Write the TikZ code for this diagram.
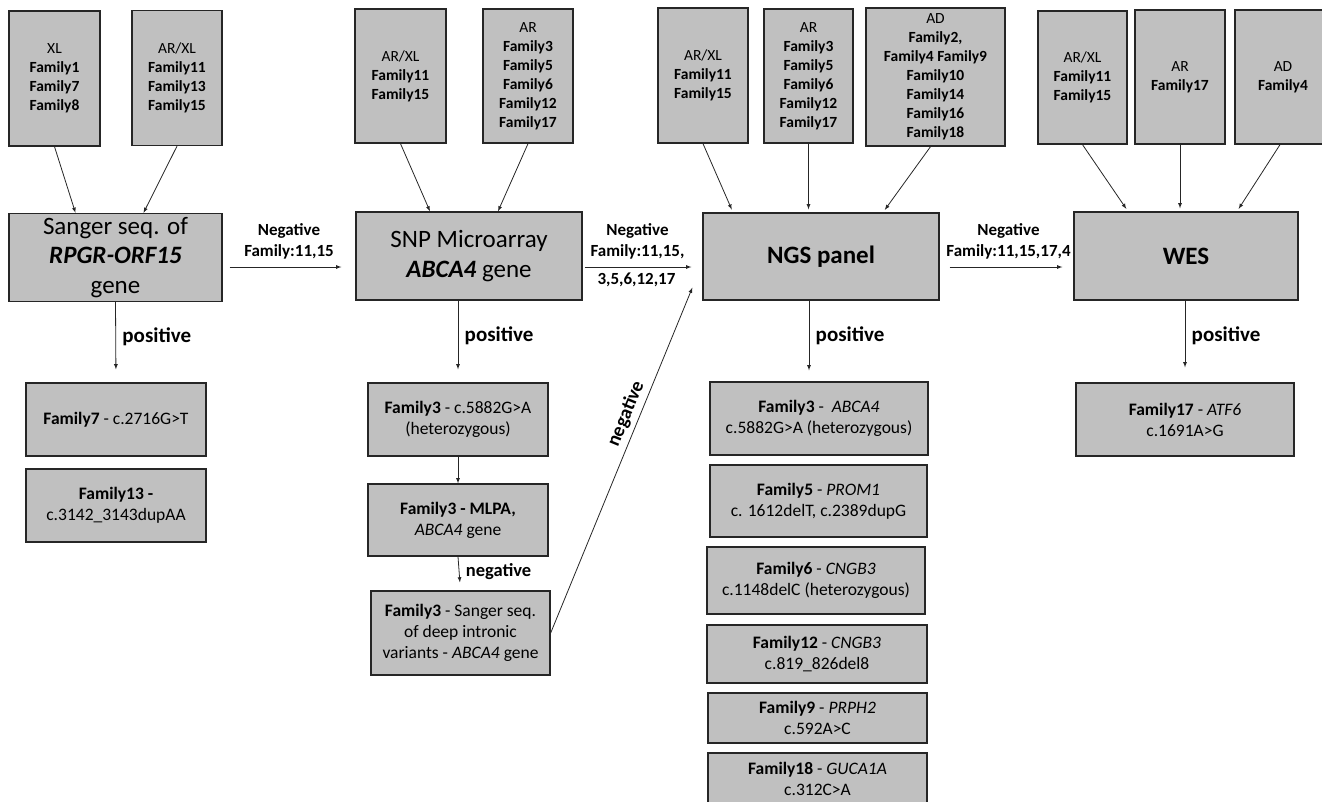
\documentclass[tikz,border=0pt]{standalone}
\usepackage{fontspec}
\setmainfont{Carlito}
\usepackage{tikz}
\usetikzlibrary{arrows}
\usepackage{xcolor}
\definecolor{boxgray}{RGB}{192,192,192}
\definecolor{edgegray}{RGB}{38,38,38}

\begin{document}
\begin{tikzpicture}[x=1pt,y=-1pt,>=latex,
		box/.style={draw=edgegray,fill=boxgray,line width=1.3pt,align=center,inner sep=0pt},
		fam node/.style={box,minimum width=90pt,minimum height=135pt,font=\fontsize{15.5}{19}\selectfont},
		test node/.style={box,minimum height=88pt,font=\fontsize{25}{29.5}\selectfont},
		result node/.style={box,minimum width=180pt,minimum height=73pt,font=\fontsize{17.5}{21}\selectfont},
		link/.style={->,draw=black!85,line width=0.8pt},
		lbl/.style={font=\bfseries\fontsize{17}{21}\selectfont,align=center},
		big lbl/.style={lbl,font=\bfseries\fontsize{21}{24}\selectfont}]

			\useasboundingbox (0,0) rectangle (1322,801);
			\clip (0,0) rectangle (1322,801);

			% Nodes
			% Sanger column
			\node[fam node,minimum width=91pt] (XLa) at (54.5,78.5) {XL\\\textbf{Family1}\\\textbf{Family7}\\\textbf{Family8}};
			\node[fam node] (ARXLa) at (177,78) {AR/XL\\\textbf{Family11}\\\textbf{Family13}\\\textbf{Family15}};
			\node[test node,minimum width=213pt] (sanger) at (115.5,257.5) {Sanger seq. of\\\textbf{\textit{RPGR-ORF15}}\\gene};
			\node[result node] (f7) at (116,419.5) {\textbf{Family7} - c.2716G>T};
			\node[result node] (f13) at (116,505.5) {\textbf{Family13 -}\\c.3142\_3143dupAA};

			% SNP column
			\node[fam node,minimum width=91pt,minimum height=134pt] (ARXLb) at (400.5,76) {AR/XL\\\textbf{Family11}\\\textbf{Family15}};
			\node[fam node,minimum height=134pt] (ARb) at (528,76) {AR\\\textbf{Family3}\\\textbf{Family5}\\\textbf{Family6}\\\textbf{Family12}\\\textbf{Family17}};
			\node[test node,minimum width=226pt] (snp) at (469,256) {SNP Microarray\\\textbf{\textit{ABCA4}} gene};
			\node[result node] (snpA) at (458,419.5) {\textbf{Family3} - c.5882G>A\\(heterozygous)};
			\node[result node,minimum height=72pt] (snpB) at (458,520) {\textbf{Family3 - MLPA,}\\\textit{ABCA4} gene};
			\node[result node,minimum width=179pt,minimum height=84pt] (snpC) at (460.5,633) {\textbf{Family3} - Sanger seq.\\of deep intronic\\variants - \textit{ABCA4} gene};

			% NGS column
			\node[fam node,minimum height=135pt] (ARXLc) at (703,75.5) {AR/XL\\\textbf{Family11}\\\textbf{Family15}};
			\node[fam node,minimum width=89pt,minimum height=134pt] (ARc) at (808.5,76) {AR\\\textbf{Family3}\\\textbf{Family5}\\\textbf{Family6}\\\textbf{Family12}\\\textbf{Family17}};
			\node[fam node,minimum width=139pt,minimum height=138pt] (ADc) at (935.5,77) {AD\\\textbf{Family2,}\\\textbf{Family4 Family9}\\\textbf{Family10}\\\textbf{Family14}\\\textbf{Family16}\\\textbf{Family18}};
			\node[test node,minimum width=236pt,minimum height=87pt] (ngs) at (821,256.5) {\textbf{NGS panel}};
			\node[result node,minimum width=218pt] (ngsA) at (819,418.5) {\textbf{Family3} -\ \ \textit{ABCA4}\\c.5882G>A (heterozygous)};
			\node[result node,minimum width=217pt,minimum height=72pt] (ngsB) at (818.5,501) {\textbf{Family5} - \textit{PROM1}\\c. 1612delT, c.2389dupG};
			\node[result node,minimum width=218pt,minimum height=67pt] (ngsC) at (816,580.5) {\textbf{Family6} - \textit{CNGB3}\\c.1148delC (heterozygous)};
			\node[result node,minimum width=220pt,minimum height=58pt] (ngsD) at (817,654) {\textbf{Family12} - \textit{CNGB3}\\c.819\_826del8};
			\node[result node,minimum width=219pt,minimum height=50pt] (ngsE) at (817.5,718) {\textbf{Family9} - \textit{PRPH2}\\c.592A>C};
			\node[result node,minimum width=219pt,minimum height=52pt] (ngsF) at (817.5,779) {\textbf{Family18} - \textit{GUCA1A}\\c.312C>A};

			% WES column
			\node[fam node,minimum width=89pt,minimum height=133pt] (ARXLd) at (1082.5,77.5) {AR/XL\\\textbf{Family11}\\\textbf{Family15}};
			\node[fam node,minimum height=134pt] (ARd) at (1180,77) {AR\\\textbf{Family17}};
			\node[fam node,minimum width=96pt,minimum height=134pt] (ADd) at (1283,77) {AD\\\textbf{Family4}};
			\node[test node,minimum width=224pt] (wes) at (1186,256) {\textbf{WES}};
			\node[result node,minimum width=218pt] (wesA) at (1185,419.5) {\textbf{Family17} - \textit{ATF6}\\c.1691A>G};


			% Edges
			\draw[link] (XLa.south) -- ([xshift=-40pt]sanger.north);
			\draw[link] (ARXLa.south) -- ([xshift=28pt]sanger.north);
			\draw[link] (ARXLb.south) -- ([xshift=-39pt]snp.north);
			\draw[link] (ARb.south) -- ([xshift=29pt]snp.north);
			\draw[link,shorten >=3pt] (ARXLc.south) -- ([xshift=-88pt]ngs.north);
			\draw[link,shorten >=3pt] (ARc.south) -- (ARc.south |- ngs.north);
			\draw[link,shorten >=3pt] ([xshift=-5pt]ADc.south) -- ([xshift=62pt]ngs.north);
			\draw[link,shorten >=3pt] (ARXLd.south) -- ([xshift=-58pt]wes.north);
			\draw[link,shorten >=3pt] (ARd.south) -- (ARd.south |- wes.north);
			\draw[link,shorten >=3pt] ([xshift=-3pt]ADd.south) -- ([xshift=51pt]wes.north);

			\draw[link,shorten <=7pt,shorten >=14pt] ([yshift=-9.5pt]sanger.east) -- ([yshift=-9.5pt]sanger.east -| snp.west)
				node[lbl,midway,above=4pt] {Negative\\Family:11,15};
			\draw[link,shorten <=2pt,shorten >=11pt] ([yshift=-11pt]snp.east) -- ([yshift=-11pt]snp.east -| ngs.west)
				node[lbl,midway,above=4pt,xshift=-5pt] {Negative\\Family:11,15,}
				node[lbl,midway,below=2pt,xshift=-6pt] {3,5,6,12,17};
			\draw[link,shorten <=10pt,shorten >=11pt] ([yshift=-10.5pt]ngs.east) -- ([yshift=-10.5pt]ngs.east -| wes.west)
				node[lbl,midway,above=4pt,xshift=2pt] {Negative\\Family:11,15,17,4};

			\draw[link,shorten >=13pt] (sanger.south) -- (f7.north)
				node[big lbl,pos=0.43,right=3pt] {positive};
			\draw[link,shorten >=13pt] (snpA.north |- snp.south) -- (snpA.north)
				node[big lbl,pos=0.43,right=3pt] {positive};
			\draw[link,shorten >=11pt] ([xshift=-12pt]ngs.south) -- ([xshift=-12pt]ngs.south |- ngsA.north)
				node[big lbl,pos=0.43,right=3pt] {positive};
			\draw[link,shorten >=15pt] (wesA.north |- wes.south) -- (wesA.north)
				node[big lbl,pos=0.43,right=3pt] {positive};

			\draw[link] (snpA.south) -- (snpB.north);
			\draw[link,shorten >=8pt] (snpB.south) -- (snpC.north)
				node[lbl,pos=0.45,right=3pt,font=\bfseries\fontsize{18.5}{21}\selectfont] {negative};
			\draw[link] (snpC.east) -- ([xshift=-10pt,yshift=13pt]ngs.south west)
				node[lbl,pos=0.62,sloped,above=1pt,font=\bfseries\fontsize{19.5}{22}\selectfont] {negative};
		\end{tikzpicture}
\end{document}
